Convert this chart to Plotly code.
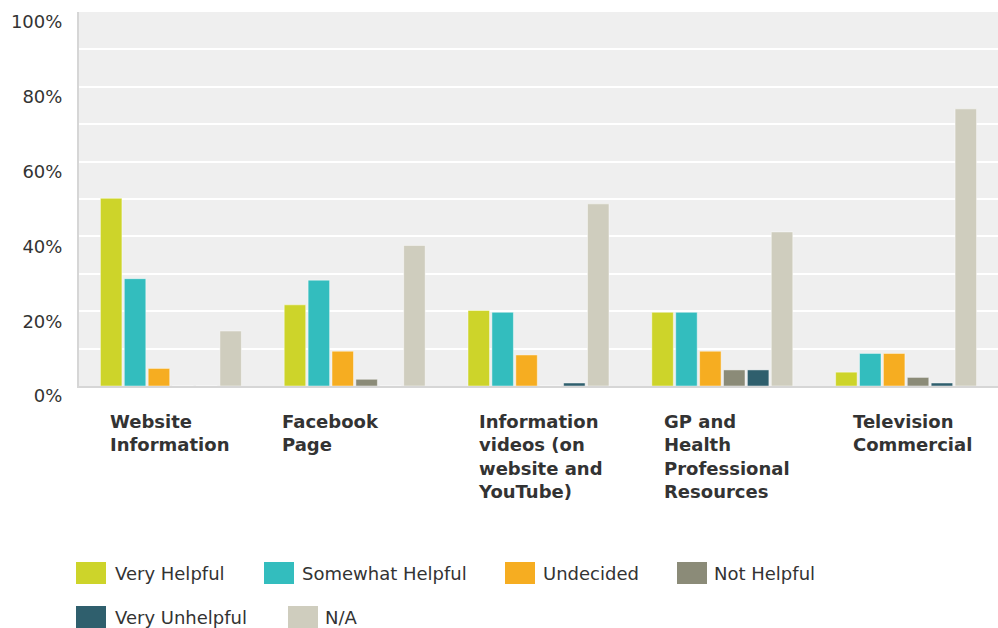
import plotly.graph_objects as go

categories = ["Website Information", "Facebook Page",
              "Information videos (on website and YouTube)",
              "GP and Health Professional Resources", "Television Commercial"]
category_labels = ["Website<br>Information", "Facebook<br>Page",
                   "Information<br>videos (on<br>website and<br>YouTube)",
                   "GP and<br>Health<br>Professional<br>Resources",
                   "Television<br>Commercial"]

series_names = ["Very Helpful", "Somewhat Helpful", "Undecided",
                "Not Helpful", "Very Unhelpful", "N/A"]
very_helpful = [50.2, 21.7, 20.2, 19.7, 3.7]
somewhat_helpful = [28.7, 28.3, 19.7, 19.7, 8.7]
undecided = [4.7, 9.3, 8.3, 9.3, 8.7]
not_helpful = [0, 1.8, 0, 4.3, 2.3]
very_unhelpful = [0, 0, 0.8, 4.3, 0.8]
not_applicable = [14.7, 37.6, 48.7, 41.2, 74.1]
series_values = [very_helpful, somewhat_helpful, undecided,
                 not_helpful, very_unhelpful, not_applicable]
colors = ["#CDD42A", "#33BDBE", "#F6AD21", "#8B8B78", "#2F5F6D", "#CFCDBE"]

y_tick_values = [0, 20, 40, 60, 80, 100]
y_tick_labels = ["0%", "20%", "40%", "60%", "80%", "100%"]

W, H = 998, 628
ML, MR, MT, MB = 79, 0, 12, 242
PW, PH = W - ML - MR, H - MT - MB

def px_x(p):
    return (p - ML) / PW

def px_y(p):
    return (H - MB - p) / PH

fig = go.Figure()
for name, vals, col in zip(series_names, series_values, colors):
    fig.add_trace(go.Bar(
        x=categories, y=vals, name=name,
        marker=dict(color=col, line=dict(color="rgba(255,255,255,0.45)", width=1)),
        showlegend=False,
    ))

# category labels (left-aligned blocks)
label_shift = [-63, -75, -63, -60, -55]
annotations = []
for cat, lab, sh in zip(categories, category_labels, label_shift):
    annotations.append(dict(
        x=cat, xref="x", y=px_y(409), yref="paper",
        text=lab, showarrow=False, xanchor="left", yanchor="top",
        align="left", xshift=sh,
        font=dict(family="DejaVu Sans", size=18, color="#333333", weight="bold"),
    ))

# custom legend
legend_items = [
    (76, 113, 573), (264, 300, 573), (505, 541, 573), (677, 712, 573),
    (76, 113, 617), (288, 323, 617),
]
shapes = []
for (sx, tx, cy), name, col in zip(legend_items, series_names, colors):
    shapes.append(dict(
        type="rect", xref="paper", yref="paper",
        x0=px_x(sx), x1=px_x(sx + 30), y0=px_y(cy - 11), y1=px_y(cy + 11),
        fillcolor=col, line=dict(width=0), layer="above",
    ))
    annotations.append(dict(
        x=px_x(tx), xref="paper", y=px_y(cy), yref="paper",
        text=name, showarrow=False, xanchor="left", yanchor="middle",
        font=dict(family="DejaVu Sans", size=18, color="#333333"),
    ))

fig.update_layout(
    width=W, height=H,
    margin=dict(l=ML, r=MR, t=MT, b=MB, pad=0),
    paper_bgcolor="white", plot_bgcolor="#EFEFEF",
    barmode="group", bargap=0.22, bargroupgap=0.1,
    showlegend=False,
    annotations=annotations, shapes=shapes,
    font=dict(family="DejaVu Sans", size=18, color="#333333"),
)
fig.update_xaxes(
    showticklabels=False, showgrid=False, zeroline=False,
    showline=True, linecolor="#D6D6D6", linewidth=2,
)
fig.update_yaxes(
    range=[0, 100], tickvals=y_tick_values, ticktext=y_tick_labels,
    showgrid=True, gridcolor="white", gridwidth=2,
    minor=dict(dtick=10, showgrid=True, gridcolor="white", gridwidth=2),
    zeroline=False, showline=True, linecolor="#D6D6D6", linewidth=2,
    ticklabelstandoff=11, ticklabelshift=10,
    tickfont=dict(family="DejaVu Sans", size=18, color="#333333"),
)

fig.write_html("out.html", config={"displayModeBar": False},
               post_script="document.body.style.margin='0';document.body.style.overflow='hidden';")
